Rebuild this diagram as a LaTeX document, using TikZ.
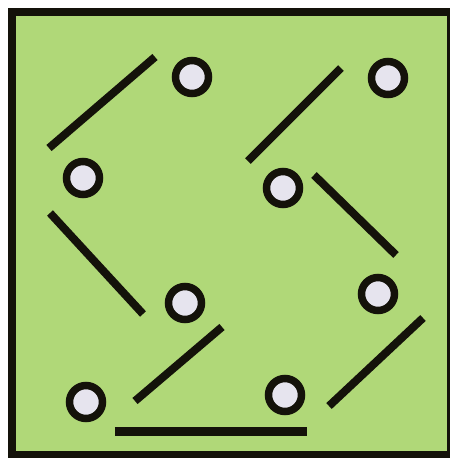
\documentclass[tikz,border=0pt]{standalone}
\usepackage{xcolor}
\usepackage{tikz}
\definecolor{field}{RGB}{176,216,120}
\definecolor{ball}{RGB}{230,228,238}
\definecolor{ink}{RGB}{20,18,10}

\begin{document}
\begin{tikzpicture}[x=0.02cm, y=-0.02cm,
  disc/.style={draw=ink, circle, line width=0.15cm, minimum size=0.66cm, inner sep=0pt, fill=ball},
  bar/.style={draw=ink, line width=0.16cm}]
\useasboundingbox (0,0) rectangle (450,458);
\clip (0,0) rectangle (450,458);
% Frame
\draw[draw=ink, line width=0.16cm, fill=field] (12,12) rectangle (451,455);

% Discs
\node[disc] (d1) at (192,77) {};
\node[disc] (d2) at (83,178) {};
\node[disc] (d3) at (388,78) {};
\node[disc] (d4) at (283,188) {};
\node[disc] (d5) at (185,303) {};
\node[disc] (d6) at (86,402) {};
\node[disc] (d7) at (378,294) {};
\node[disc] (d8) at (285,395) {};

% Bars
\draw[bar] (155,57) -- (49,148);
\draw[bar] (341,68) -- (248,161);
\draw[bar] (314,175) -- (396,255);
\draw[bar] (50,213) -- (143,314);
\draw[bar] (222,327) -- (135,401);
\draw[bar] (423,318) -- (329,406);
\draw[bar, line width=0.18cm] (115,431) -- (307,431);
\end{tikzpicture}
\end{document}
